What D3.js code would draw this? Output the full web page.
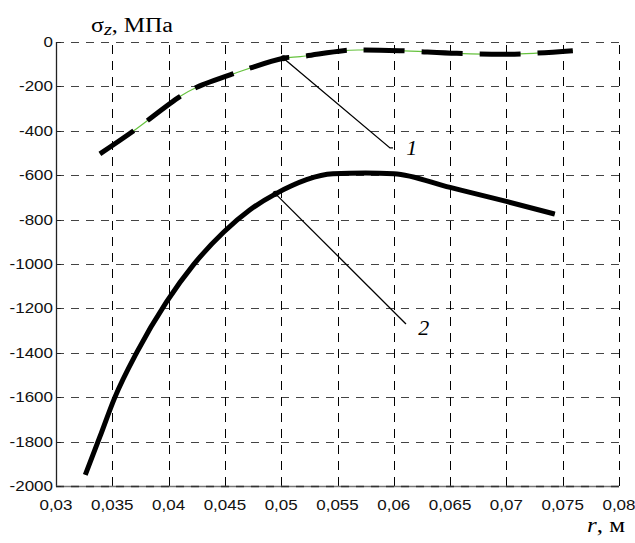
<!DOCTYPE html>
<html><head><meta charset="utf-8">
<script src="https://cdn.jsdelivr.net/npm/d3@7"></script>
<style>
html,body{margin:0;padding:0;background:#fff;}
svg{display:block;}
</style>
</head><body>
<svg id="chart" width="635" height="543"></svg>
<script>
// ---- data ----
const xTicks = [0.03,0.035,0.04,0.045,0.05,0.055,0.06,0.065,0.07,0.075,0.08];
const xTickLabels = ["0,03","0,035","0,04","0,045","0,05","0,055","0,06","0,065","0,07","0,075","0,08"];
const yTicks = [0,-200,-400,-600,-800,-1000,-1200,-1400,-1600,-1800,-2000];
const yTickLabels = ["0","-200","-400","-600","-800","-1000","-1200","-1400","-1600","-1800","-2000"];

const curve1R = [0.0339,0.0369,0.0410,0.0425,0.0457,0.0502,0.0517,0.0555,0.0570,0.0605,0.0656,0.0700,0.0724,0.0759];
const curve1S = [-504,-400,-246,-204,-144,-73,-66,-39,-36,-39,-51,-55,-51,-39];

const curve2R = [0.0326,0.0339,0.0352,0.0372,0.0398,0.0422,0.0449,0.0472,0.0495,0.0546,0.0575,0.0600,0.0650,0.0700,0.0743];
const curve2S = [-1950,-1778,-1604,-1396,-1172,-1004,-856,-757,-684,-594,-590,-593,-655,-718,-775];

// annotation anchors (data space)
const markers = [{r:0.0502,s:-73},{r:0.0495,s:-684}];
const leaderEnds = [{r:0.05966,s:-477},{r:0.06108,s:-1270}];
const labels = [{text:"1",r:0.06110,s:-508},{text:"2",r:0.06218,s:-1322}];

// ---- layout ----
const svg = d3.select("#chart");
const x = d3.scaleLinear().domain([0.03,0.08]).range([56,619]);
const y = d3.scaleLinear().domain([-2000,0]).range([486,42]);

function stretch(sel, f){
  sel.each(function(){ const w=this.getComputedTextLength(); d3.select(this).attr("textLength", w*f).attr("lengthAdjust","spacingAndGlyphs"); });
}

// grid
const g = svg.append("g");
g.selectAll("line.h").data(yTicks).join("line")
  .attr("x1",x(0.03)).attr("x2",x(0.08))
  .attr("y1",d=>Math.round(y(d))+0.5).attr("y2",d=>Math.round(y(d))+0.5)
  .attr("stroke","#444").attr("stroke-width",1).attr("stroke-dasharray","8,7");
g.selectAll("line.v").data(xTicks.slice(1)).join("line")
  .attr("x1",d=>Math.round(x(d))+0.5).attr("x2",d=>Math.round(x(d))+0.5)
  .attr("y1",y(-2000)).attr("y2",y(0))
  .attr("stroke","#000").attr("stroke-width",1).attr("stroke-dasharray","9,7");

// axes lines
svg.append("line").attr("x1",Math.round(x(0.03))+0.5).attr("x2",Math.round(x(0.03))+0.5)
  .attr("y1",y(0)).attr("y2",y(-2000)+0.5).attr("stroke","#222").attr("stroke-width",1.3);
svg.append("line").attr("x1",x(0.03)).attr("x2",x(0.08))
  .attr("y1",Math.round(y(-2000))+0.5).attr("y2",Math.round(y(-2000))+0.5)
  .attr("stroke","#777").attr("stroke-width",1.3);
svg.append("line").attr("x1",x(0.03)).attr("x2",x(0.08))
  .attr("y1",Math.round(y(-2000))+0.5).attr("y2",Math.round(y(-2000))+0.5)
  .attr("stroke","#333").attr("stroke-width",1.3).attr("stroke-dasharray","8,7");
// small ticks on left axis
svg.selectAll("line.lt").data(yTicks).join("line")
  .attr("x1",x(0.03)).attr("x2",x(0.03)+5)
  .attr("y1",d=>Math.round(y(d))+0.5).attr("y2",d=>Math.round(y(d))+0.5)
  .attr("stroke","#222").attr("stroke-width",1);

// tick labels
const yl = svg.selectAll("text.yl").data(yTicks).join("text")
  .attr("x",53).attr("y",d=>y(d)+5)
  .attr("text-anchor","end")
  .attr("font-family","Liberation Sans, Arial, sans-serif").attr("font-size",14.5)
  .attr("fill","#111")
  .text((d,i)=>yTickLabels[i]);
stretch(yl,1.17);
const xl = svg.selectAll("text.xl").data(xTicks).join("text")
  .attr("x",d=>x(d)).attr("y",510)
  .attr("text-anchor","middle")
  .attr("font-family","Liberation Sans, Arial, sans-serif").attr("font-size",14.5)
  .attr("fill","#111")
  .text((d,i)=>xTickLabels[i]);
stretch(xl,1.17);

// curves
const line1 = d3.line().x(d=>x(d[0])).y(d=>y(d[1])).curve(d3.curveCatmullRom.alpha(0.5));
const line2 = d3.line().x(d=>x(d[0])).y(d=>y(d[1])).curve(d3.curveMonotoneX);
const c1 = curve1R.map((r,i)=>[r,curve1S[i]]);
const c2 = curve2R.map((r,i)=>[r,curve2S[i]]);

svg.append("path").attr("d",line1(c1)).attr("fill","none").attr("stroke","#66c23e").attr("stroke-width",1.2);
svg.append("path").attr("d",line1(c1)).attr("fill","none").attr("stroke","#000").attr("stroke-width",5)
  .attr("stroke-dasharray","41,17");
svg.append("path").attr("d",line2(c2)).attr("fill","none").attr("stroke","#66c23e").attr("stroke-width",1.2);
svg.append("path").attr("d",line2(c2)).attr("fill","none").attr("stroke","#000").attr("stroke-width",5);

// leaders and markers
markers.forEach((m,i)=>{
  const e = leaderEnds[i];
  const pts = [[x(m.r),y(m.s)],[x(e.r),y(e.s)]];
  if(i===0) pts.push([x(e.r)+3,y(e.s)]);
  svg.append("path").attr("d",d3.line()(pts)).attr("fill","none").attr("stroke","#000").attr("stroke-width",1.3);
  svg.append("circle").attr("cx",x(m.r)).attr("cy",y(m.s)).attr("r",3).attr("fill","#000");
});
svg.selectAll("text.lab").data(labels).join("text")
  .attr("x",d=>x(d.r)).attr("y",d=>y(d.s))
  .attr("font-family","Liberation Serif, Times New Roman, serif").attr("font-style","italic")
  .attr("font-size",22).attr("fill","#000")
  .text(d=>d.text);

// axis titles
const t = svg.append("text").attr("x",91).attr("y",32)
  .attr("font-family","Liberation Serif, Times New Roman, serif").attr("font-size",20).attr("fill","#000");
t.append("tspan").text("σ");
t.append("tspan").attr("font-style","italic").attr("font-size",17).attr("dy",3).text("z");
t.append("tspan").attr("dy",-3).text(", МПа");
t.attr("textLength",82).attr("lengthAdjust","spacingAndGlyphs");

const rt = svg.append("text").attr("x",587).attr("y",532)
  .attr("font-family","Liberation Serif, Times New Roman, serif").attr("font-size",20).attr("fill","#000");
rt.append("tspan").attr("font-style","italic").text("r");
rt.append("tspan").text(", м");
rt.attr("textLength",38).attr("lengthAdjust","spacingAndGlyphs");
</script>
</body></html>
